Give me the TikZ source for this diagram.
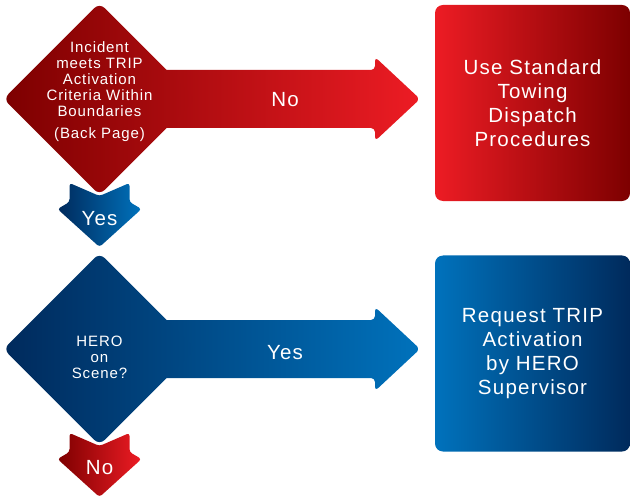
\documentclass[tikz,border=0pt]{standalone}
\usepackage{fontspec}
\setmainfont{Liberation Sans}[LetterSpace=6]
\usetikzlibrary{shapes.geometric,calc,backgrounds}

\definecolor{hotred}{HTML}{ED1C24}
\definecolor{darkred}{HTML}{7D0000}
\definecolor{skyblue}{HTML}{0072BC}
\definecolor{navyblue}{HTML}{002A5C}

\begin{document}
\begin{tikzpicture}[
  x=1bp, y=-1bp,
  decision/.style={diamond, minimum width=192bp, minimum height=192bp,
    inner sep=0pt, outer sep=0pt, rounded corners=7bp},
  action/.style={rectangle, rounded corners=8bp, minimum width=195bp,
    minimum height=196bp, inner sep=0pt, outer sep=0pt, text=white,
    align=center, font=\fontsize{20.5bp}{24bp}\selectfont},
  question/.style={text=white, align=center, inner sep=0pt,
    font=\fontsize{15bp}{16bp}\selectfont},
  answer/.style={text=white, inner sep=0pt, font=\fontsize{20.5bp}{24bp}\selectfont},
  flow/.style={rounded corners=4bp},
  drop/.style={rounded corners=3bp}
  ]
  \useasboundingbox (0,0) rectangle (630,497);

  % questions
  \node[decision, left color=darkred, right color=hotred!45!darkred] (q1) at (99.5,99) {};
  \node[decision, left color=navyblue, right color=skyblue!45!navyblue] (q2) at (99.5,349) {};
  \node[question] (q1t) at ([yshift=7bp]q1.center)
    {Incident\\meets TRIP\\Activation\\Criteria Within\\Boundaries\\[6bp](Back Page)};
  \node[question] (q2t) at ([yshift=-8.5bp]q2.center) {HERO\\on\\Scene?};

  % outcome boxes
  \node[action, left color=hotred, right color=darkred] (a1) at (532.5,103)
    {Use Standard\\Towing\\Dispatch\\Procedures};
  \node[action, left color=skyblue, right color=navyblue] (a2) at (532.5,353.5)
    {Request TRIP\\Activation\\by HERO\\Supervisor};

  % bars from the questions to the boxes
  \begin{scope}[on background layer]
    \path[flow, left color=hotred!22!darkred, right color=hotred]
      ($(q1.center)+(0,-29)$) -- ($(q1.center -| a1.west)+(-60,-29)$)
      -- ++(0,-13) -- ++(45,42) -- ++(-45,42) -- ++(0,-13)
      -- ($(q1.center)+(0,29)$) -- cycle;
    \path[flow, left color=skyblue!22!navyblue, right color=skyblue]
      ($(q2.center)+(0,-29)$) -- ($(q2.center -| a2.west)+(-60,-29)$)
      -- ++(0,-13) -- ++(45,42) -- ++(-45,42) -- ++(0,-13)
      -- ($(q2.center)+(0,29)$) -- cycle;
  \end{scope}
  \node[answer] (no1) at (285,100) {No};
  \node[answer] (yes2) at (285,352.5) {Yes};

  % answers below the questions
  \path[drop, shift={(q1.south)}, left color=navyblue, right color=skyblue]
    (-30,-12) -- (0,1) -- (30,-12) -- (30,7) -- (42,14) -- (0,52)
    -- (-42,14) -- (-30,7) -- cycle;
  \node[answer] (yes1) at ([yshift=-24bp]q1.south) {Yes};
  \path[drop, shift={(q2.south)}, left color=darkred, right color=hotred]
    (-30,-12) -- (0,1) -- (30,-12) -- (30,7) -- (42,14) -- (0,52)
    -- (-42,14) -- (-30,7) -- cycle;
  \node[answer] (no2) at ([yshift=-22.5bp]q2.south) {No};
\end{tikzpicture}
\end{document}
